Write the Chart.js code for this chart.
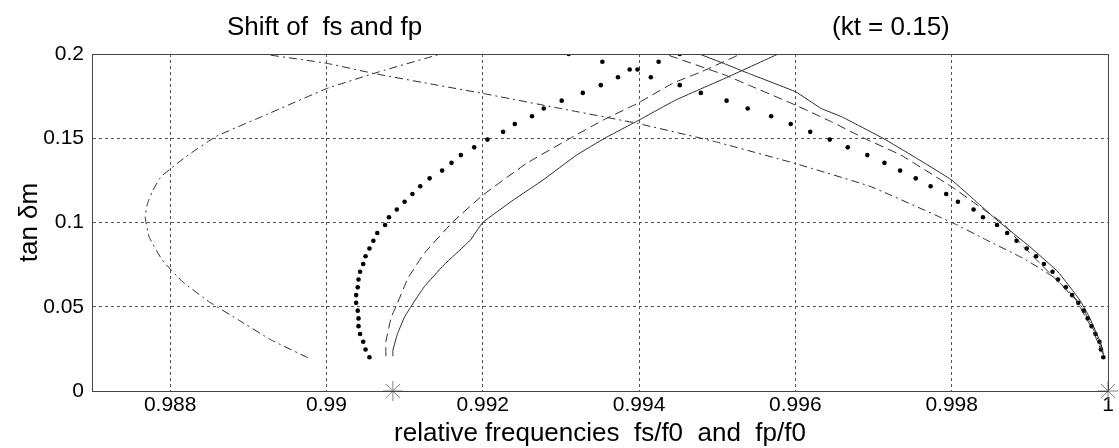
<!DOCTYPE html>
<html><head><meta charset="utf-8">
<script src="https://cdn.jsdelivr.net/npm/chart.js@4/dist/chart.umd.min.js"></script>
<style>html,body{margin:0;padding:0;background:#fff;}</style>
</head><body>
<canvas id="c" width="1119" height="448"></canvas>
<script>
// ---- data ----
const tanDm = [0.0200, 0.0246, 0.0292, 0.0338, 0.0385, 0.0431, 0.0477, 0.0523, 0.0569, 0.0615,
               0.0662, 0.0708, 0.0754, 0.0800, 0.0846, 0.0892, 0.0938, 0.0985, 0.1031, 0.1077,
               0.1123, 0.1169, 0.1215, 0.1262, 0.1308, 0.1354, 0.1400, 0.1446, 0.1492, 0.1538,
               0.1585, 0.1631, 0.1677, 0.1723, 0.1769, 0.1815, 0.1862, 0.1908, 0.1954, 0.2000];
const dotFsX = [0.99055, 0.99050, 0.99047, 0.99043, 0.99041, 0.99041, 0.99040, 0.99038, 0.99038, 0.99040,
                0.99041, 0.99043, 0.99047, 0.99050, 0.99055, 0.99060, 0.99065, 0.99075, 0.99080, 0.99090,
                0.99100, 0.99110, 0.99120, 0.99132, 0.99148, 0.99160, 0.99172, 0.99189, 0.99206, 0.99226,
                0.99241, 0.99263, 0.99278, 0.99301, 0.99328, 0.99351, 0.99373, 0.99388, 0.99425, 0.99452];
const dotFpX = [0.99994, 0.99991, 0.99989, 0.99984, 0.99979, 0.99974, 0.99969, 0.99962, 0.99954, 0.99946,
                0.99936, 0.99929, 0.99918, 0.99908, 0.99896, 0.99883, 0.99871, 0.99858, 0.99840, 0.99828,
                0.99808, 0.99793, 0.99773, 0.99754, 0.99734, 0.99714, 0.99692, 0.99667, 0.99644, 0.99619,
                0.99594, 0.99569, 0.99539, 0.99512, 0.99479, 0.99452, 0.99415, 0.99398, 0.99353, 0.99310];

const solidFsY = [0.0206, 0.0242, 0.0341, 0.0440, 0.0500, 0.0618, 0.0747, 0.0895, 0.1000, 0.1133, 0.1252, 0.1400, 0.1500, 0.1608, 0.1727, 0.1856, 0.2000];
const solidFsX = [0.99085, 0.99085, 0.99091, 0.99100, 0.99108, 0.99125, 0.99150, 0.99184, 0.99200, 0.99239, 0.99277, 0.99320, 0.99356, 0.99400, 0.99447, 0.99510, 0.99578];
const solidFpY = [0.0202, 0.0281, 0.0440, 0.0539, 0.0707, 0.0856, 0.1014, 0.1113, 0.1252, 0.1390, 0.1500, 0.1628, 0.1677, 0.1776, 0.1885, 0.1941, 0.2000];
const solidFpX = [0.99995, 0.99991, 0.99976, 0.99964, 0.99936, 0.99900, 0.99858, 0.99834, 0.99800, 0.99752, 0.99712, 0.99659, 0.99633, 0.99600, 0.99540, 0.99510, 0.99477];

const dashFsY = [0.0206, 0.0291, 0.0440, 0.0500, 0.0667, 0.0816, 0.1000, 0.1162, 0.1351, 0.1500, 0.1608, 0.1707, 0.1826, 0.1895, 0.2000];
const dashFsX = [0.99076, 0.99076, 0.99083, 0.99089, 0.99104, 0.99125, 0.99161, 0.99200, 0.99256, 0.99312, 0.99354, 0.99398, 0.99443, 0.99480, 0.99530];
const dashFpY = [0.0222, 0.0364, 0.0539, 0.0856, 0.0994, 0.1093, 0.1212, 0.1400, 0.1500, 0.1598, 0.1697, 0.1816, 0.1875, 0.2000];
const dashFpX = [0.99993, 0.99980, 0.99959, 0.99892, 0.99866, 0.99836, 0.99800, 0.99735, 0.99688, 0.99646, 0.99600, 0.99540, 0.99510, 0.99433];

const dashDotFsY = [0.0198, 0.0301, 0.0420, 0.0529, 0.0648, 0.0776, 0.0915, 0.1034, 0.1113, 0.1192, 0.1271, 0.1321, 0.1390, 0.1509, 0.1638, 0.1796, 0.1895, 0.2000];
const dashDotFsX = [0.98976, 0.98930, 0.98888, 0.98850, 0.98816, 0.98790, 0.98773, 0.98768, 0.98771, 0.98778, 0.98788, 0.98801, 0.98820, 0.98858, 0.98922, 0.99001, 0.99068, 0.99146];
const dashDotFpY = [0.0242, 0.0380, 0.0489, 0.0568, 0.0677, 0.0786, 0.0895, 0.0994, 0.1212, 0.1350, 0.1479, 0.1588, 0.1677, 0.1766, 0.1826, 0.1885, 0.1945, 0.2000];
const dashDotFpX = [0.99993, 0.99980, 0.99968, 0.99955, 0.99930, 0.99892, 0.99845, 0.99803, 0.99697, 0.99600, 0.99498, 0.99398, 0.99299, 0.99200, 0.99129, 0.99060, 0.99000, 0.98918];

const starX = [0.99085, 1.0];
const starY = [0, 0];

const xTicks = [0.988, 0.99, 0.992, 0.994, 0.996, 0.998, 1];
const yTicks = [0, 0.05, 0.1, 0.15, 0.2];
const titleLeft = 'Shift of  fs and fp';
const titleRight = '(kt = 0.15)';
const xTitle = 'relative frequencies  fs/f0  and  fp/f0';
const yTitle = 'tan \u03B4m';

// ---- chart ----
const FONT = "'Liberation Sans', Arial, sans-serif";
const pts = (xs, ys) => xs.map((x, i) => ({x: x, y: ys[i]}));
const lineDs = (xs, ys, dash) => ({
  data: pts(xs, ys), showLine: true, borderColor: '#2b2b2b', borderWidth: 1,
  borderDash: dash, pointRadius: 0, tension: 0.1, fill: false
});
const dotDs = (xs, ys) => ({
  data: pts(xs, ys), showLine: false, pointRadius: 2.3, pointBackgroundColor: '#000',
  pointBorderColor: '#000', pointBorderWidth: 0
});

const framePlugin = {
  id: 'frame',
  afterDraw(chart) {
    const {ctx, chartArea: a} = chart;
    ctx.save();
    ctx.strokeStyle = '#444';
    ctx.lineWidth = 1;
    ctx.strokeRect(Math.round(a.left) + 0.5, Math.round(a.top) + 0.5,
                   Math.round(a.right) - Math.round(a.left), Math.round(a.bottom) - Math.round(a.top));
    ctx.fillStyle = '#000';
    ctx.font = '26px ' + FONT;
    ctx.textBaseline = 'alphabetic';
    ctx.textAlign = 'left';
    ctx.fillText(titleLeft, 227, 35);
    ctx.fillText(titleRight, 832, 35);
    ctx.restore();
  }
};

new Chart(document.getElementById('c'), {
  type: 'scatter',
  data: {
    datasets: [
      lineDs(solidFsX, solidFsY, []),
      lineDs(solidFpX, solidFpY, []),
      lineDs(dashFsX, dashFsY, [9, 5]),
      lineDs(dashFpX, dashFpY, [9, 5]),
      lineDs(dashDotFsX, dashDotFsY, [8, 4, 2, 4]),
      lineDs(dashDotFpX, dashDotFpY, [8, 4, 2, 4]),
      dotDs(dotFsX, tanDm),
      dotDs(dotFpX, tanDm),
      { data: pts(starX, starY), showLine: false, pointStyle: 'star', pointRadius: 10,
        pointBorderColor: '#808080', pointBackgroundColor: '#808080', pointBorderWidth: 1, clip: false }
    ]
  },
  options: {
    responsive: false, animation: false, devicePixelRatio: 1,
    layout: { padding: { top: 54, right: 4, left: 0, bottom: 0 } },
    plugins: { legend: { display: false }, tooltip: { enabled: false } },
    scales: {
      x: {
        type: 'linear', min: 0.987, max: 1.0,
        afterBuildTicks: s => { s.ticks = xTicks.map(v => ({value: v})); },
        afterFit: s => { s.height = 57; s.paddingLeft = 0; s.paddingRight = 0; },
        ticks: { callback: v => String(v), font: { family: FONT, size: 21 }, color: '#000', padding: 2, maxRotation: 0, autoSkip: false },
        grid: { color: '#555', lineWidth: 1, drawTicks: false },
        border: { display: true, color: '#444', width: 1, dash: [3, 3] },
        title: { display: true, text: xTitle, color: '#000', font: { family: FONT, size: 26, lineHeight: 1 }, padding: { top: 0, bottom: 1 } }
      },
      y: {
        type: 'linear', min: 0, max: 0.2,
        afterBuildTicks: s => { s.ticks = yTicks.map(v => ({value: v})); },
        afterFit: s => { s.width = 92; s.paddingTop = 0; s.paddingBottom = 0; },
        ticks: { callback: v => String(v), font: { family: FONT, size: 21 }, color: '#000', padding: 8 },
        grid: { color: '#555', lineWidth: 1, drawTicks: false },
        border: { display: true, color: '#444', width: 1, dash: [3, 3] },
        title: { display: true, text: yTitle, color: '#000', font: { family: FONT, size: 26, lineHeight: 1 }, padding: { top: 17, bottom: 0 } }
      }
    }
  },
  plugins: [framePlugin]
});
</script>
</body></html>
